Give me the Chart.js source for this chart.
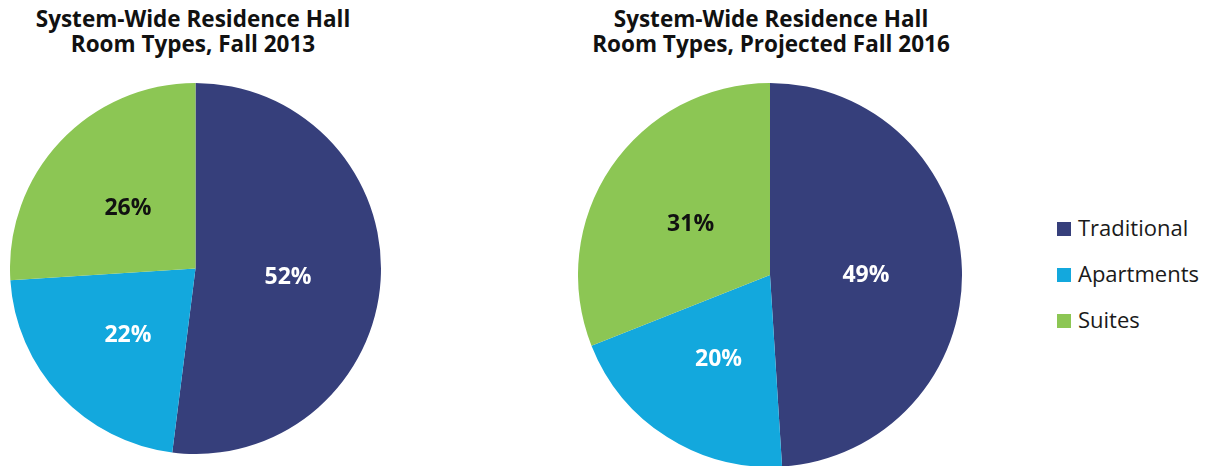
<!DOCTYPE html>
<html>
<head>
<meta charset="utf-8">
<script src="https://cdn.jsdelivr.net/npm/chart.js@4/dist/chart.umd.min.js"></script>
<style>
    body { margin: 0; background: #fff; font-family: 'Open Sans', sans-serif; }
    #page { position: relative; width: 1218px; height: 466px; overflow: hidden; }
    .title {
        position: absolute; top: 6px; width: 420px; text-align: center;
        font-weight: bold; font-size: 22.5px; line-height: 25px; color: #111;
    }
    .pie { position: absolute; }
    #legend { position: absolute; left: 1057px; top: 212px; }
    .legend-item { height: 46px; display: flex; align-items: flex-start; font-size: 22px; color: #1a1a1a; }
    .legend-box { width: 14px; height: 14px; margin: 10px 7px 0 0; }
</style>
</head>
<body>
<div id="page">
    <div class="title" style="left: -17px;">System-Wide Residence Hall<br>Room Types, Fall 2013</div>
    <div class="title" style="left: 561px;">System-Wide Residence Hall<br>Room Types, Projected Fall 2016</div>
    <div class="pie" style="left: 10px; top: 83px; width: 371px; height: 371px;"><canvas id="pie2013"></canvas></div>
    <div class="pie" style="left: 578px; top: 83px; width: 384px; height: 384px;"><canvas id="pie2016"></canvas></div>
    <div id="legend"></div>
</div>

<script>
// ============================================
// Room type data
// ============================================
const roomTypes = ['Traditional', 'Apartments', 'Suites'];
const fall2013 = [52, 22, 26];
const fall2016 = [49, 20, 31];
const sliceColors = ['#363F7B', '#13A8DD', '#8CC654'];
const labelColors = ['#ffffff', '#ffffff', '#111111'];

// ============================================
// Percent labels drawn in the middle of each slice
// ============================================
const sliceLabels = {
    id: 'sliceLabels',
    afterDatasetsDraw(chart) {
        const ctx = chart.ctx;
        const meta = chart.getDatasetMeta(0);
        const values = chart.data.datasets[0].data;
        ctx.save();
        ctx.font = 'bold 23px "Open Sans"';
        ctx.textAlign = 'center';
        ctx.textBaseline = 'middle';
        meta.data.forEach((arc, i) => {
            const pos = arc.tooltipPosition();
            ctx.fillStyle = labelColors[i];
            // nudge down a little, Open Sans sits high on 'middle'
            ctx.fillText(values[i] + '%', pos.x, pos.y + 3);
        });
        ctx.restore();
    }
};

function makePie(canvasId, values) {
    const ctx = document.getElementById(canvasId).getContext('2d');
    return new Chart(ctx, {
        type: 'pie',
        data: {
            labels: roomTypes,
            datasets: [{
                data: values,
                backgroundColor: sliceColors,
                borderWidth: 0
            }]
        },
        options: {
            responsive: true,
            maintainAspectRatio: false,
            animation: false,
            layout: { padding: 0 },
            plugins: {
                legend: { display: false },
                tooltip: { enabled: false }
            }
        },
        plugins: [sliceLabels]
    });
}

makePie('pie2013', fall2013);
makePie('pie2016', fall2016);

// Shared legend
document.getElementById('legend').innerHTML = roomTypes.map((t, i) => `
    <div class="legend-item">
        <div class="legend-box" style="background: ${sliceColors[i]}"></div>
        <span>${t}</span>
    </div>
`).join('');
</script>
</body>
</html>
